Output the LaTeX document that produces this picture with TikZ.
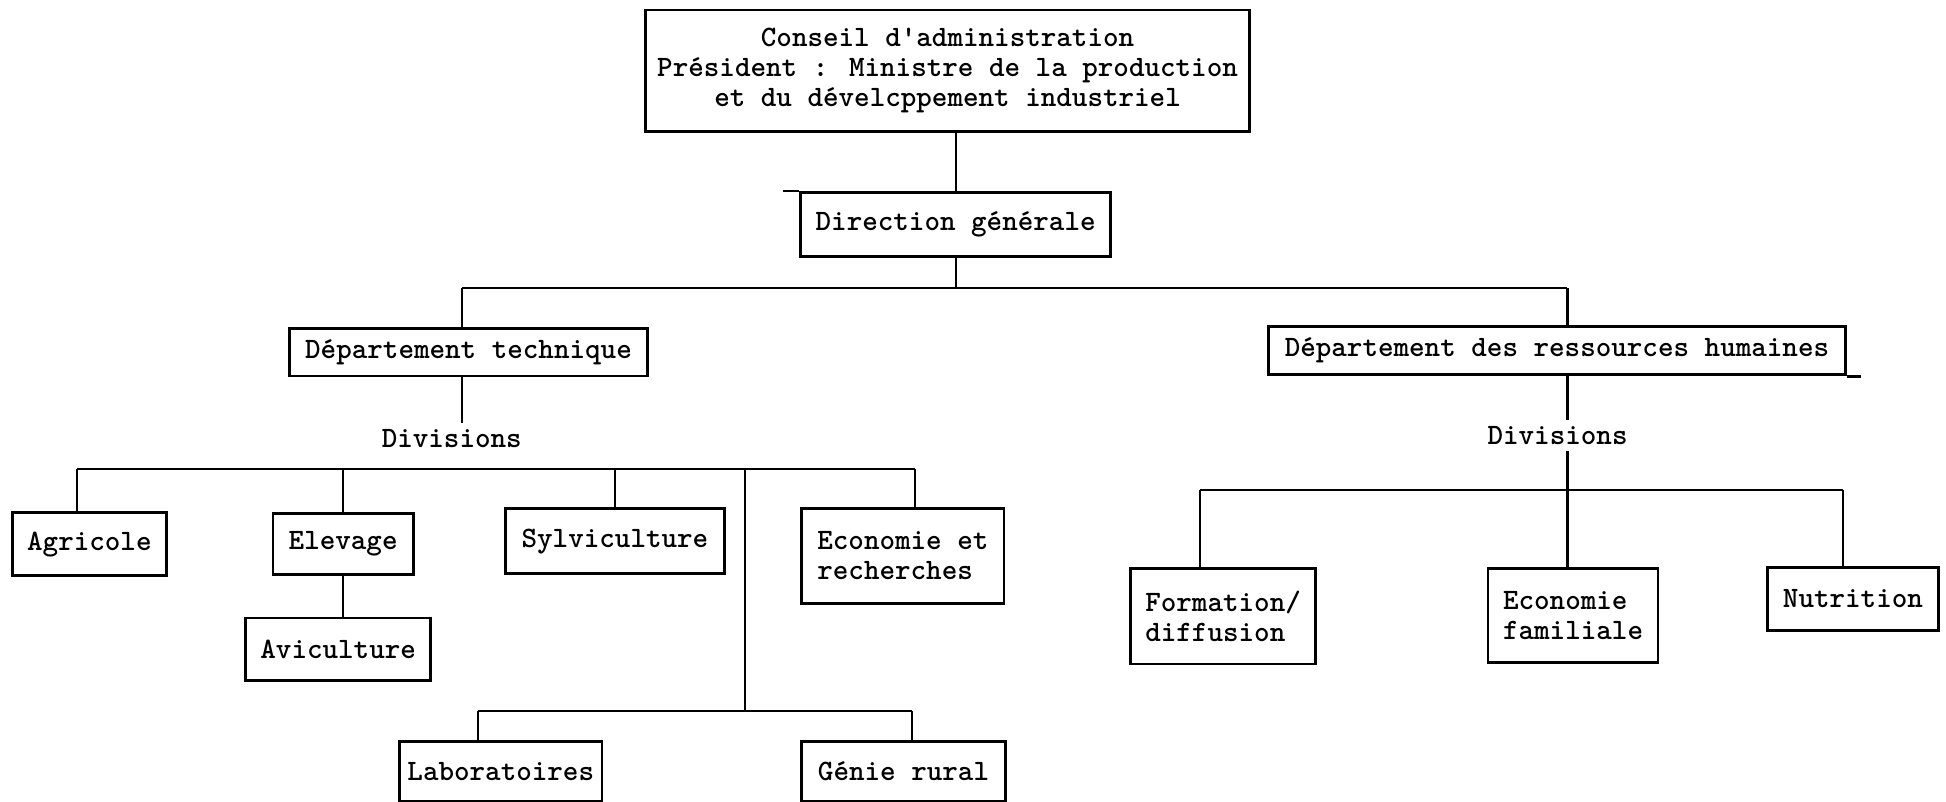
\documentclass[tikz,border=0pt]{standalone}
\begin{document}
\begin{tikzpicture}[x=0.62pt,y=-0.62pt,
  every node/.style={font=\ttfamily\bfseries\fontsize{14.8}{15}\selectfont, inner sep=0pt},
  box/.style={draw, line width=1.4pt, minimum width=#1*0.62pt},
  lbl/.style={inner sep=3pt},
  conn/.style={line width=1.1pt}]
\useasboundingbox (0,0) rectangle (1568,646.2);
% nodes
\node[box=487, minimum height=98*0.62pt, align=center] (conseil) at (763.5,57)
  {Conseil d'administration\\Président : Ministre de la production\\et du dévelcppement industriel};
\node[box=250, minimum height=52*0.62pt] (dg) at (770,181) {Direction générale};
\node[box=289, minimum height=38*0.62pt] (dt) at (377.5,284) {Département technique};
\node[box=465, minimum height=39*0.62pt] (drh) at (1254.5,282.5) {Département des ressources humaines};
\node[lbl] (div1) at (364,353) {Divisions};
\node[lbl] (div2) at (1255,351) {Divisions};
\node[box=124, minimum height=51*0.62pt] (agri) at (72,438.5) {Agricole};
\node[box=113, minimum height=49*0.62pt] (elev) at (276.5,438.5) {Elevage};
\node[box=149, minimum height=50*0.62pt] (avic) at (272.5,523) {Aviculture};
\node[box=177, minimum height=52*0.62pt] (sylv) at (495.5,436) {Sylviculture};
\node[box=163, minimum height=76*0.62pt, align=left] (ecor) at (727.5,448) {Economie et\\recherches};
\node[box=163, minimum height=48*0.62pt] (labo) at (403.5,621.5) {Laboratoires};
\node[box=164, minimum height=48*0.62pt] (genie) at (728,621.5) {Génie rural};
\node[box=149, minimum height=77*0.62pt, align=left] (form) at (985.5,496.5) {Formation/\\diffusion};
\node[box=137, minimum height=76*0.62pt, align=left] (ecof) at (1267.5,496) {Economie\\familiale};
\node[box=138, minimum height=51*0.62pt] (nutr) at (1493,482.5) {Nutrition};
% junction coordinates
\coordinate (b1L) at (372,232);
\coordinate (b1R) at (1263,232);
\coordinate (b2L) at (62,378);
\coordinate (b2R) at (737,378);
\coordinate (b2M) at (600,378);
\coordinate (b3M) at (600,573);
\coordinate (b3L) at (385,573);
\coordinate (b3R) at (735,573);
\coordinate (b4L) at (967,395);
\coordinate (b4R) at (1485,395);
% connectors
\draw[conn] (dg.north) -- (dg.north |- conseil.south);
\draw[conn] (dg.south) -- (dg.south |- b1L);
\draw[conn] (b1L) -- (b1R);
\draw[conn] (b1L) -- (b1L |- dt.north);
\draw[conn] (b1R) -- (b1R |- drh.north);
\draw[conn] (b1L |- dt.south) -- (b1L |- div1.north);
\draw[conn] (b2L) -- (b2R);
\draw[conn] (b2L) -- (b2L |- agri.north);
\draw[conn] (elev.north |- b2L) -- (elev.north);
\draw[conn] (sylv.north |- b2L) -- (sylv.north);
\draw[conn] (b2R) -- (b2R |- ecor.north);
\draw[conn] (elev.south) -- (elev.south |- avic.north);
\draw[conn] (b2M) -- (b3M);
\draw[conn] (b3L) -- (b3R);
\draw[conn] (b3L) -- (b3L |- labo.north);
\draw[conn] (b3R) -- (b3R |- genie.north);
\draw[conn] (b1R |- drh.south) -- (b1R |- div2.north);
\draw[conn] (b1R |- div2.south) -- (b1R |- ecof.north);
\draw[conn] (b4L) -- (b4R);
\draw[conn] (b4L) -- (b4L |- form.north);
\draw[conn] (b4R) -- (b4R |- nutr.north);
% small overhangs of box edges
\draw[line width=1.4pt] (dg.north west) -- ++(-13,0);
\draw[line width=1.4pt] (drh.south east) -- ++(11,0);
\end{tikzpicture}
\end{document}
